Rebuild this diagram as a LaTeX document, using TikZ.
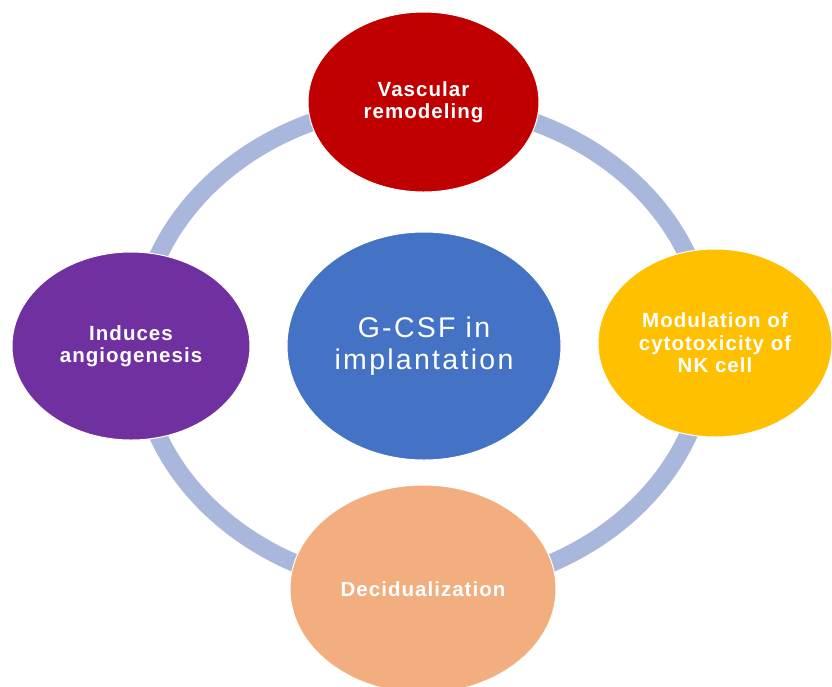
\documentclass[tikz,border=0pt]{standalone}
\usepackage{fontspec}
\setmainfont{Liberation Sans}
\usetikzlibrary{shapes.geometric}
\definecolor{cred}{HTML}{C00000}
\definecolor{cpurple}{HTML}{7030A0}
\definecolor{cblue}{HTML}{4472C4}
\definecolor{cyellow}{HTML}{FFC000}
\definecolor{corange}{HTML}{F2AE7E}
\definecolor{cring}{HTML}{AAB7DD}
\tikzset{
  blob/.style={ellipse, draw=white, line width=1pt, inner sep=0pt, text=white, align=center},
  lbl/.style={font=\bfseries\addfontfeatures{LetterSpace=5}\fontsize{20.5}{22.5}\selectfont},
  ringline/.style={draw=cring, line width=18pt}
}
\begin{document}
\begin{tikzpicture}[x=1pt,y=-1pt]
\useasboundingbox (0,0) rectangle (832,686);
\fill[white] (0,0) rectangle (832,686);
\coordinate (c) at (423,346);
\draw[ringline] (c) ellipse [x radius=285pt, y radius=243pt];
\node[blob, fill=cred, minimum width=231pt, minimum height=180pt, lbl] (vasc) at (423.5,102) {Vascular\\remodeling};
\node[blob, fill=cpurple, minimum width=238pt, minimum height=188pt, lbl] (angio) at (131,346) {Induces\\angiogenesis};
\node[blob, fill=cyellow, minimum width=234pt, minimum height=188pt, lbl] (nk) at (715,343) {Modulation of\\cytotoxicity of\\NK cell};
\node[blob, fill=corange, minimum width=266pt, minimum height=208pt, lbl] (decid) at (423,589) {Decidualization};
\node[blob, fill=cblue, minimum width=274pt, minimum height=228pt, font=\addfontfeatures{LetterSpace=8}\fontsize{28.5}{32}\selectfont] (gcsf) at (424,346) {G-CSF in\\implantation};
\end{tikzpicture}
\end{document}
